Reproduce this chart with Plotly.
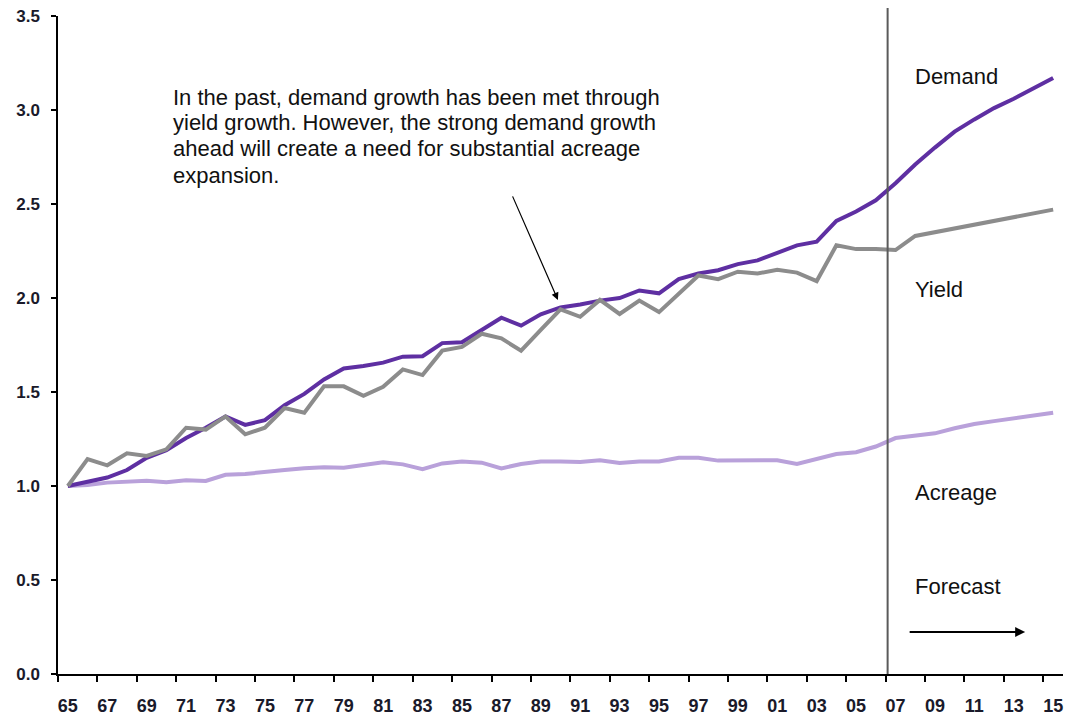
import plotly.graph_objects as go

years = list(range(1965, 2016))
tick_labels = [f"{y % 100:02d}" for y in years]

demand = [1.00, 1.02, 1.045, 1.085, 1.15, 1.19, 1.255, 1.31, 1.37, 1.325,
          1.35, 1.43, 1.49, 1.567, 1.625, 1.638, 1.656, 1.688, 1.69, 1.76,
          1.765, 1.83, 1.895, 1.853, 1.913, 1.95, 1.965, 1.986, 2.00, 2.04,
          2.025, 2.10, 2.13, 2.148, 2.18, 2.20, 2.24, 2.28, 2.30, 2.41,
          2.46, 2.52, 2.61, 2.71, 2.80, 2.885, 2.95, 3.01, 3.06, 3.115, 3.17]

yield_ = [1.00, 1.143, 1.11, 1.174, 1.16, 1.195, 1.31, 1.30, 1.37, 1.275,
          1.31, 1.415, 1.39, 1.53, 1.53, 1.48, 1.528, 1.62, 1.59, 1.72,
          1.74, 1.81, 1.785, 1.72, 1.83, 1.94, 1.90, 1.99, 1.915, 1.986,
          1.925, 2.02, 2.12, 2.10, 2.14, 2.13, 2.15, 2.135, 2.09, 2.28,
          2.26, 2.26, 2.255, 2.33, 2.35, 2.37, 2.39, 2.41, 2.43, 2.45, 2.47]

acreage = [1.00, 1.005, 1.018, 1.025, 1.028, 1.02, 1.03, 1.027, 1.06, 1.064,
           1.076, 1.085, 1.094, 1.10, 1.097, 1.11, 1.126, 1.115, 1.09, 1.12,
           1.13, 1.124, 1.094, 1.117, 1.13, 1.13, 1.128, 1.137, 1.122, 1.13,
           1.13, 1.15, 1.15, 1.135, 1.135, 1.135, 1.137, 1.117, 1.144, 1.17,
           1.18, 1.21, 1.255, 1.266, 1.28, 1.307, 1.33, 1.345, 1.36, 1.376, 1.39]

y_ticks = [0.0, 0.5, 1.0, 1.5, 2.0, 2.5, 3.0, 3.5]

note_lines = ["In the past, demand growth has been met through",
              "yield growth. However, the strong demand growth",
              "ahead will create a need for substantial acreage",
              "expansion."]
note_line_y = [3.069, 2.931, 2.793, 2.654]

series_labels = ["Demand", "Yield", "Acreage", "Forecast"]
series_label_y = [3.176, 2.043, 0.963, 0.463]

idx = list(range(len(years)))
label_idx = idx[::2]
label_txt = tick_labels[::2]
boundary_ticks = [i - 0.5 for i in label_idx]

fig = go.Figure()
fig.add_trace(go.Scatter(x=idx, y=acreage, mode="lines", name="Acreage",
                         line=dict(color="#B9A1DA", width=4)))
fig.add_trace(go.Scatter(x=idx, y=demand, mode="lines", name="Demand",
                         line=dict(color="#5E2FA2", width=4)))
fig.add_trace(go.Scatter(x=idx, y=yield_, mode="lines", name="Yield",
                         line=dict(color="#8C8C8C", width=4)))

FONT = "Arial, Liberation Sans, sans-serif"

fig.update_layout(
    width=1066, height=721,
    margin=dict(l=58, r=3, t=16, b=47, autoexpand=False),
    paper_bgcolor="white", plot_bgcolor="white",
    showlegend=False,
    font=dict(family=FONT, color="#111111"),
    xaxis=dict(
        range=[-0.5, 50.5],
        tickmode="array", tickvals=label_idx, ticktext=label_txt,
        ticks="", showgrid=False, zeroline=False,
        showline=True, linecolor="black", linewidth=2,
        tickfont=dict(size=18, family=FONT, color="#1a1a2a", weight="bold"),
        ticklabelstandoff=14,
        minor=dict(tickmode="array", tickvals=boundary_ticks,
                   ticks="outside", ticklen=6, tickcolor="black", tickwidth=1.5,
                   showgrid=False),
    ),
    yaxis=dict(
        range=[0, 3.5],
        tickmode="array", tickvals=y_ticks,
        ticktext=[f"{v:.1f}" for v in y_ticks],
        ticks="outside", ticklen=5, tickcolor="black", tickwidth=1.5,
        showgrid=False, zeroline=False,
        showline=True, linecolor="black", linewidth=1.5,
        tickfont=dict(size=17, family=FONT, color="#1a1a2a", weight="bold"),
        ticklabelstandoff=8,
    ),
)

# Forecast divider
fig.add_shape(type="line", xref="x", yref="paper", x0=41.6, x1=41.6,
              y0=0, y1=1.012, line=dict(color="#5a5a5a", width=2))

ann_font = dict(family=FONT, size=22, color="#111111")
for txt, yv in zip(note_lines, note_line_y):
    fig.add_annotation(xref="x", yref="y", x=5.25, y=yv, text=txt,
                       showarrow=False, xanchor="left", yanchor="middle",
                       align="left", font=ann_font)
fig.add_annotation(xref="x", yref="y", x=24.87, y=1.99, text="",
                   showarrow=True, ax=-46, ay=-105, arrowhead=2, arrowsize=1.2,
                   arrowwidth=1.2, arrowcolor="black")
for txt, yv in zip(series_labels, series_label_y):
    fig.add_annotation(xref="x", yref="y", x=42.9, y=yv, text=txt,
                       showarrow=False, xanchor="left", yanchor="middle",
                       font=ann_font)
fig.add_annotation(xref="x", yref="y", x=48.58, y=0.2234, text="",
                   showarrow=True, ax=-117, ay=0, arrowhead=2, arrowsize=1,
                   arrowwidth=2, arrowcolor="black")

fig.write_html("out.html", config={"displayModeBar": False})

# remove the browser's default body margin so the figure fills the window exactly
with open("out.html", "r", encoding="utf-8") as f:
    html = f.read()
html = html.replace("<body>", '<body style="margin:0;padding:0;overflow:hidden">', 1)
with open("out.html", "w", encoding="utf-8") as f:
    f.write(html)
